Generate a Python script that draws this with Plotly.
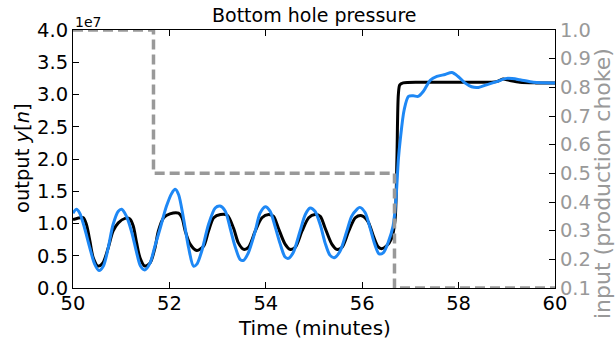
import plotly.graph_objects as go

# ---- data ----
# measured output y[n] (units of 1e7) - black series
t_black = [50.0, 50.21, 50.28, 50.35, 50.42, 50.52, 50.62, 50.73, 50.83, 50.94, 51.08, 51.18,
           51.25, 51.32, 51.39, 51.49, 51.60, 51.70, 51.77, 51.88, 52.01, 52.19, 52.26, 52.33,
           52.43, 52.57, 52.71, 52.81, 52.92, 53.06, 53.20, 53.33, 53.43, 53.54, 53.64, 53.78,
           53.92, 54.06, 54.16, 54.26, 54.40, 54.50, 54.61, 54.75, 54.89, 55.02, 55.13, 55.23,
           55.37, 55.47, 55.58, 55.72, 55.86, 55.99, 56.12, 56.23, 56.33, 56.40, 56.50, 56.61,
           56.68, 56.72, 56.75, 56.78, 56.85, 57.2, 57.8, 58.4, 58.79, 58.92, 59.05, 59.27, 59.6, 60.0]
y_black = [1.06, 1.09, 0.98, 0.73, 0.47, 0.34, 0.39, 0.62, 0.88, 1.01, 1.08, 1.07,
           0.96, 0.70, 0.47, 0.34, 0.39, 0.62, 0.88, 1.09, 1.15, 1.16, 1.09, 0.88,
           0.68, 0.58, 0.65, 0.88, 1.09, 1.14, 1.13, 0.93, 0.70, 0.60, 0.63, 0.88,
           1.09, 1.14, 1.11, 0.93, 0.68, 0.60, 0.63, 0.88, 1.09, 1.14, 1.11, 0.93,
           0.68, 0.60, 0.63, 0.88, 1.09, 1.12, 1.03, 0.81, 0.64, 0.61, 0.65, 0.77,
           1.04, 2.0, 3.0, 3.15, 3.18, 3.19, 3.19, 3.19, 3.20, 3.24, 3.22, 3.19, 3.18, 3.18]

# model output - blue series
t_blue = [50.0, 50.07, 50.14, 50.24, 50.35, 50.45, 50.54, 50.63, 50.73, 50.83, 50.94, 51.01,
          51.11, 51.22, 51.32, 51.40, 51.49, 51.60, 51.70, 51.81, 51.94, 52.05, 52.12, 52.19,
          52.29, 52.40, 52.50, 52.57, 52.67, 52.81, 52.95, 53.05, 53.16, 53.26, 53.36, 53.47,
          53.54, 53.64, 53.78, 53.88, 53.99, 54.09, 54.19, 54.30, 54.40, 54.47, 54.57, 54.71,
          54.82, 54.92, 55.02, 55.13, 55.23, 55.33, 55.42, 55.54, 55.68, 55.78, 55.89, 55.95,
          56.06, 56.16, 56.26, 56.35, 56.44, 56.54, 56.64, 56.70, 56.75, 56.79, 56.87, 56.96,
          57.06, 57.16, 57.27, 57.41, 57.55, 57.72, 57.86, 57.99, 58.13, 58.27, 58.41, 58.58,
          58.79, 59.0, 59.27, 59.55, 60.0]
y_blue = [1.16, 1.22, 1.16, 0.93, 0.62, 0.37, 0.27, 0.34, 0.62, 0.98, 1.19, 1.22,
          1.11, 0.86, 0.55, 0.34, 0.28, 0.39, 0.65, 0.93, 1.27, 1.47, 1.53, 1.45,
          1.09, 0.62, 0.34, 0.37, 0.57, 0.98, 1.24, 1.27, 1.19, 0.93, 0.65, 0.44,
          0.43, 0.55, 0.88, 1.16, 1.26, 1.19, 0.96, 0.68, 0.48, 0.46, 0.55, 0.88,
          1.14, 1.24, 1.19, 0.98, 0.70, 0.51, 0.47, 0.57, 0.88, 1.11, 1.22, 1.25,
          1.17, 0.94, 0.68, 0.53, 0.55, 0.71, 0.96, 1.37, 1.99, 2.30, 2.76, 2.97,
          2.98, 2.97, 3.05, 3.22, 3.28, 3.31, 3.34, 3.28, 3.18, 3.12, 3.11, 3.15,
          3.20, 3.25, 3.23, 3.19, 3.18]

# input (production choke) - step signal
t_input = [50.0, 51.67, 56.67, 60.0]
u_input = [1.0, 0.5, 0.1, 0.1]

x_ticks = [50, 52, 54, 56, 58, 60]
y_ticks = [0.0, 0.5, 1.0, 1.5, 2.0, 2.5, 3.0, 3.5, 4.0]
u_ticks = [0.1, 0.2, 0.3, 0.4, 0.5, 0.6, 0.7, 0.8, 0.9, 1.0]

FONT = "DejaVu Sans"
GRAY = "#999999"
TICK_FS = 19.5

fig = go.Figure()
fig.add_trace(go.Scatter(x=t_input, y=u_input, yaxis="y2", mode="lines",
                         line=dict(color=GRAY, width=3.5, dash="10px,5px", shape="hv"),
                         showlegend=False, hoverinfo="skip"))
fig.add_trace(go.Scatter(x=t_black, y=y_black, mode="lines",
                         line=dict(color="black", width=3, shape="spline", smoothing=0.8),
                         showlegend=False))
fig.add_trace(go.Scatter(x=t_blue, y=y_blue, mode="lines",
                         line=dict(color="#1e88f5", width=3, shape="spline", smoothing=0.8),
                         showlegend=False))

L, R, T, B = 73, 61, 30, 53
W, H = 616, 341
pw, ph = W - L - R, H - T - B

def px_x(px):
    return (px - L) / pw

def px_y(py):
    return (H - B - py) / ph

fig.update_layout(
    width=W, height=H,
    margin=dict(l=L, r=R, t=T, b=B, autoexpand=False),
    plot_bgcolor="white", paper_bgcolor="white",
    font=dict(family=FONT, size=TICK_FS, color="black"),
    xaxis=dict(range=[50, 60], tickvals=x_ticks, ticktext=[str(v) for v in x_ticks],
               ticks="inside", ticklen=6, tickcolor="black", showline=True, linecolor="black",
               linewidth=1, mirror="ticks", showgrid=False, zeroline=False,
               tickfont=dict(size=TICK_FS), ticklabelstandoff=-2),
    yaxis=dict(range=[0, 4], tickvals=y_ticks, ticktext=[f"{v:.1f}" for v in y_ticks],
               ticks="inside", ticklen=6, tickcolor="black", showline=True, linecolor="black",
               linewidth=1, showgrid=False, zeroline=False, tickfont=dict(size=TICK_FS)),
    yaxis2=dict(range=[0.1, 1.0], tickvals=u_ticks, ticktext=[f"{v:.1f}" for v in u_ticks],
                overlaying="y", side="right", ticks="inside", ticklen=6, tickcolor="black",
                showline=True, linecolor="black", linewidth=1, showgrid=False, zeroline=False,
                tickfont=dict(size=TICK_FS, color=GRAY)),
)

annos = [
    dict(text="Bottom hole pressure", x=0.5, y=px_y(15), xref="paper", yref="paper",
         xanchor="center", yanchor="middle", showarrow=False, font=dict(size=19)),
    dict(text="1e7", x=px_x(73), y=px_y(22), xref="paper", yref="paper", xanchor="left",
         yanchor="middle", showarrow=False, font=dict(size=14)),
    dict(text="Time (minutes)", x=0.5, y=px_y(328), xref="paper", yref="paper",
         xanchor="center", yanchor="middle", showarrow=False, font=dict(size=20)),
    dict(text="output <i>y</i>[<i>n</i>]", x=px_x(22), y=px_y(158), xref="paper", yref="paper",
         xanchor="center", yanchor="middle", textangle=-90, showarrow=False,
         font=dict(size=19.5)),
    dict(text="input (production choke)", x=px_x(602), y=px_y(184), xref="paper",
         yref="paper", xanchor="center", yanchor="middle", textangle=-90, showarrow=False,
         font=dict(size=22, color=GRAY)),
]
fig.update_layout(annotations=annos)

# remove the browser's default page margin so the figure sits at the window's top-left
fig.write_html("out.html", config={"displayModeBar": False},
               post_script="document.body.style.margin='0';document.body.style.overflow='hidden';")
